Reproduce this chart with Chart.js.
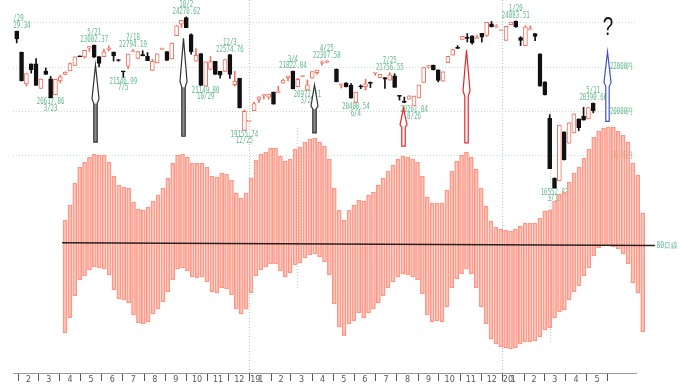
<!DOCTYPE html>
<html>
<head>
<meta charset="utf-8">
<script src="https://cdn.jsdelivr.net/npm/chart.js@4.4.1/dist/chart.umd.min.js"></script>
<style>
  html, body { margin: 0; padding: 0; background: #fff; }
</style>
</head>
<body>
<canvas id="myChart" width="688" height="391"></canvas>
<script>
// weekly candles (built from daily closes), week 0 = 2018-01-29, 65 = golden week (closed)
var weekOpen = [23629,22682,21245,22149,22153,21042,21824,21480,20766,21388,21678,21835,22088,22508,22467,22865,23002,22481,22475,22804,
  22680,22338,21811,22052,22697,22396,22544,22507,21857,22199,22799,22707,22373,23420,23940,24245,23469,22271,22614,21149,
  21898,22269,21821,21812,22574,21219,21506,19155,19561,20038,20555,20719,20649,20883,20864,21281,21528,21822,21125,21584,
  20977,21509,21761,22169,22218,null,21923,21191,21301,21182,20411,21134,21124,21285,21729,21534,21535,21416,21616,20720,
  20455,20563,20261,20620,21318,22001,22098,21885,21375,22207,22548,22867,23251,23331,23416,23292,23529,23430,23952,23821,
  23656,23204,23916,24083,23343,22971,23685,23523,22605,21344,19698,17002,16887,19084,18576,19043,19669,19783,19674,20390];
var weekHigh = [23629,22682,21720,22149,22389,21469,21968,21591,21454,21645,21794,22191,22467,22508,22758,22930,23002,22481,22823,22966,
  22693,22342,21811,22597,22794,22712,22746,22662,22356,22601,22869,22707,23094,23869,24120,24270,23506,22841,22614,22243,
  22486,22269,21821,22351,22574,21816,21506,20077,19561,20427,20666,20773,20788,20883,21144,21464,21602,21822,21504,21627,
  21428,21807,21870,22277,22308,null,21923,21250,21301,21260,20884,21204,21462,21338,21754,21685,21535,21756,21709,20720,
  20655,20710,20704,21199,21988,22079,22098,21885,21798,22492,22799,22974,23391,23520,23416,23437,23529,24023,24066,23924,
  23656,23850,24041,24083,23379,23873,23861,23523,22605,21344,19867,17011,19389,19084,19498,19897,19669,20193,20179,20390];
var weekLow = [23098,21382,21154,21736,21181,21042,21676,20617,20766,21292,21660,21835,22088,22472,22408,22717,22437,22018,22475,22738,
  22278,22270,21546,21932,22697,22396,22512,22298,21857,22199,22799,22307,22373,23420,23796,23783,22590,22271,21184,21149,
  21898,21680,21507,21812,21501,21148,20166,19155,19561,20038,20402,20574,20556,20333,20864,21281,21385,21025,21125,21566,
  20977,21505,21687,22090,22201,null,21344,21062,21117,20601,20408,21032,20972,21086,21638,21533,21046,21416,21087,20516,
  20405,20563,20261,20620,21318,21960,21878,21341,21375,22207,22548,22843,23251,23141,23038,23292,23135,23391,23816,23782,
  23656,23204,23916,23795,22977,22971,23685,23193,21142,20749,17431,16552,16887,17818,18576,19043,19137,19619,19674,19945];
var weekClose = [23274,21382,21720,21892,21181,21469,21676,20617,21454,21567,21778,22162,22467,22472,22758,22930,22450,22171,22694,22851,
  22516,22304,21788,22597,22697,22712,22525,22298,22270,22601,22865,22307,23094,23869,24120,23783,22694,22532,21184,22243,
  22250,21680,21646,22351,21678,21374,20166,20015,19561,20359,20666,20773,20788,20333,20900,21425,21602,21025,21450,21627,
  21205,21807,21870,22200,22259,null,21344,21250,21117,20601,20884,21116,21258,21275,21746,21685,21466,21658,21087,20684,
  20418,20710,20704,21199,21988,22079,21878,21410,21798,22492,22799,22850,23391,23303,23112,23293,23354,24023,23816,23837,
  23656,23850,24041,23827,23205,23827,23687,23386,21142,20749,17431,16552,19389,17820,19498,19897,19262,19619,20179,20037];

// cycle band: upper and lower edge of each bar (units above the base line)
var cycleHigh = [23,38,60,76,81,86,89,88,88,81, 67,58,56,55,41,34,33,36,42,48, 55,65,80,88,89,86,80,80,80,76,
  67,66,70,69,63,50,45,50,65,83, 89,91,95,95,87,82,84,94,96,101, 104,105,101,97,84,55,33,23,33,38,
  43,42,48,51,58,65,72,78,84,87, 86,84,81,67,46,40,40,40,53,72, 82,88,91,86,74,55,37,22,16,14,
  13,12,14,17,20,20,20,25,32,33, 42,49,51,61,70,76,85,94,106,112, 115,116,116,112,108,101,80,68,30];
var cycleLow = [-90,-75,-53,-37,-33,-27,-24,-25,-26,-32, -47,-56,-57,-60,-72,-80,-81,-79,-71,-66, -59,-49,-37,-26,-25,-28,-34,-35,-34,-39,
  -49,-50,-45,-46,-52,-66,-71,-66,-50,-33, -27,-24,-21,-21,-28,-34,-30,-22,-20,-15, -12,-11,-14,-19,-32,-61,-84,-93,-81,-78,
  -70,-75,-70,-66,-60,-53,-45,-39,-34,-31, -32,-34,-37,-51,-72,-79,-78,-79,-64,-45, -36,-31,-26,-31,-45,-64,-81,-96,-101,-104,
  -105,-106,-105,-101,-99,-99,-98,-94,-87,-85, -75,-69,-67,-57,-49,-43,-33,-25,-13,-5, -3,-3,-4,-6,-11,-21,-40,-50,-89];
var baseLine = [0.3, -2.5];

// month labels on the bottom axis (Feb 2018 .. May 2020)
var monthLabels = ['2','3','4','5','6','7','8','9','10','11','12',
  '1','2','3','4','5','6','7','8','9','10','11','12',
  '1','2','3','4','5'];
var yearLabels = {2019: '19', 2020: '20'};
var priceLines = [18000, 20000, 22000, 24000];
var priceLabels = {18000: '18000円', 20000: '20000円', 22000: '22000円'};

// notes: week, price, date, side
var notes = [
  [0, 23629.34, '1/29', 'above'], [7, 20617.86, '3/23', 'below'], [16, 23002.37, '5/21', 'above'],
  [22, 21546.99, '7/5', 'below'], [24, 22794.19, '7/18', 'above'], [35, 24270.62, '10/2', 'above'],
  [39, 21149.80, '10/29', 'below'], [44, 22574.76, '12/3', 'above'], [47, 19155.74, '12/25', 'below'],
  [57, 21822.04, '3/4', 'above'], [60, 20977.11, '3/25', 'below'], [64, 22307.58, '4/25', 'above'],
  [70, 20408.54, '6/4', 'below'], [77, 21756.55, '7/25', 'above'], [82, 20261.04, '8/26', 'below'],
  [103, 24083.51, '1/20', 'above'], [111, 16552.83, '3/19', 'below'], [119, 20390.66, '5/11', 'above']
];
var arrowWeek = [16.2, 34.4, 61.4, 79.7, 92.7, 121.8];
var arrowTip = [22100, 23300, 21200, 20160, 22780, 22700];
var arrowBase = [18620, 18890, 19040, 18440, 18590, 19560];
var arrowColor = ['#333', '#333', '#333', '#e8262a', '#e8262a', '#4050c8'];
var arrowFill = ['#8c8c8c', '#8c8c8c', '#8c8c8c', '#fff', '#fff', '#fff'];

var UP = '#f2705f', DOWN = '#111', NOTE = '#62b98a';

function weekPos(y, m, d) {
  return (Date.UTC(y, m, d) - Date.UTC(2018, 0, 29)) / (7 * 86400000);
}

// bottom axis ticks: month edges, month numbers in between, year mark after january edge
var axisTicks = [];
for (var k = 0; k <= monthLabels.length; k++) {
  var yy = 2018 + Math.floor((k + 1) / 12), mm = (k + 1) % 12;
  var b = weekPos(yy, mm, 1);
  axisTicks.push({ value: b, label: '', kind: mm === 0 ? 'year' : 'edge' });
  if (k < monthLabels.length) {
    var b2 = weekPos(2018 + Math.floor((k + 2) / 12), (k + 2) % 12, 1);
    if (mm === 0) axisTicks.push({ value: b + 1.1, label: yearLabels[yy], kind: 'text' });
    axisTicks.push({ value: (b + b2) / 2, label: monthLabels[k], kind: 'text' });
  }
}

var wicks = [], bodies = [], wickColors = [], bodyFill = [], bodyLine = [];
for (var i = 0; i < weekOpen.length; i++) {
  if (weekOpen[i] === null) continue;
  var up = weekClose[i] >= weekOpen[i];
  wicks.push({ x: i, y: [weekLow[i], weekHigh[i]] });
  bodies.push({ x: i, y: [weekOpen[i], weekClose[i]] });
  wickColors.push(up ? UP : DOWN);
  bodyLine.push(up ? UP : DOWN);
  bodyFill.push(up ? '#fff' : DOWN);
}

var cycleBars = [];
for (var j = 0; j < cycleHigh.length; j++) {
  cycleBars.push({ x: j, y: [cycleLow[j], cycleHigh[j]] });
}

function thinText(ctx, s, x, y, sx) {
  ctx.save();
  ctx.translate(x, y);
  ctx.scale(sx, 1);
  ctx.fillText(s, 0, 0);
  ctx.restore();
}

function drawArrow(ctx, x, t, b, stroke, fill) {
  var L = b - t, hw = 3.5, sw = 1.7;
  var wide = t + L * 0.44, neck = t + L * 0.5;
  ctx.beginPath();
  ctx.moveTo(x, t);
  ctx.lineTo(x + hw, wide);
  ctx.lineTo(x + sw, neck);
  ctx.lineTo(x + sw, b);
  ctx.lineTo(x - sw, b);
  ctx.lineTo(x - sw, neck);
  ctx.lineTo(x - hw, wide);
  ctx.closePath();
  ctx.fillStyle = '#fff';
  ctx.fill();
  if (fill !== '#fff') {
    ctx.fillStyle = fill;
    ctx.fillRect(x - sw, neck, sw * 2, b - neck);
  }
  ctx.lineWidth = 1.2;
  ctx.strokeStyle = stroke;
  ctx.stroke();
}

var notePlugin = {
  id: 'notePlugin',
  beforeDatasetsDraw: function (chart) {
    var ctx = chart.ctx, xs = chart.scales.x, ys = chart.scales.y, area = chart.chartArea;
    ctx.save();
    ctx.beginPath();
    ctx.rect(area.left + 0.5, 0, chart.width, chart.height);
    ctx.clip();
    ctx.fillStyle = NOTE;
    ctx.font = '8px "DejaVu Sans Mono"';
    ctx.textAlign = 'center';
    ctx.textBaseline = 'middle';
    notes.forEach(function (n) {
      var px = xs.getPixelForValue(n[0]), py = ys.getPixelForValue(n[1]);
      var val = n[1].toFixed(2);
      if (n[3] === 'above') {
        thinText(ctx, n[2], px, py - 11.7, 0.72);
        thinText(ctx, val, px, py - 5, 0.72);
      } else {
        thinText(ctx, val, px, py + 4.5, 0.72);
        thinText(ctx, n[2], px, py + 11, 0.72);
      }
    });
    // price line labels, right aligned inside the plot
    ctx.textAlign = 'right';
    priceLines.forEach(function (v) {
      if (priceLabels[v]) thinText(ctx, priceLabels[v], area.right - 3, ys.getPixelForValue(v), 0.72);
    });
    ctx.restore();
  },
  afterDatasetsDraw: function (chart) {
    var ctx = chart.ctx, xs = chart.scales.x, ys = chart.scales.y;
    ctx.save();
    for (var a = 0; a < arrowWeek.length; a++) {
      drawArrow(ctx, Math.round(xs.getPixelForValue(arrowWeek[a])) + 0.5,
        ys.getPixelForValue(arrowTip[a]), ys.getPixelForValue(arrowBase[a]),
        arrowColor[a], arrowFill[a]);
    }
    ctx.fillStyle = '#111';
    ctx.font = '26px "Liberation Sans"';
    ctx.textAlign = 'center';
    ctx.textBaseline = 'middle';
    thinText(ctx, '?', xs.getPixelForValue(arrowWeek[5]) + 1, ys.getPixelForValue(arrowTip[5]) - 24, 0.72);
    // label at the end of the base line
    var xo = chart.scales.xo, yo = chart.scales.yo;
    ctx.fillStyle = NOTE;
    ctx.font = '8px "DejaVu Sans Mono"';
    ctx.textAlign = 'left';
    thinText(ctx, '80日線', xo.getPixelForValue(cycleHigh.length + 1.8), yo.getPixelForValue(baseLine[1]), 0.8);
    ctx.restore();
  }
};

var ctx = document.getElementById('myChart').getContext('2d');
var myChart = new Chart(ctx, {
  type: 'bar',
  data: {
    datasets: [
      {
        type: 'line', data: [{ x: 57.9, y: 19260 }, { x: 57.9, y: 11960 }],
        borderColor: '#bbb', borderWidth: 1, borderDash: [1, 2], pointRadius: 0, order: 9
      },
      {
        type: 'line', data: [{ x: 110.2, y: 19940 }, { x: 110.2, y: 9570 }],
        borderColor: '#bbb', borderWidth: 1, borderDash: [1, 2], pointRadius: 0, order: 9
      },
      {
        label: 'wick', data: wicks, backgroundColor: wickColors, borderWidth: 0,
        barThickness: 1, grouped: false, order: 6
      },
      {
        label: 'body', data: bodies, backgroundColor: bodyFill, borderColor: bodyLine,
        borderWidth: 1, borderSkipped: false, barThickness: 4, minBarLength: 1, grouped: false, order: 5
      },
      {
        label: 'cycle', data: cycleBars, xAxisID: 'xo', yAxisID: 'yo',
        backgroundColor: 'rgba(255,172,155,0.62)', borderColor: '#ff9484', borderWidth: 1,
        borderSkipped: false, barThickness: 4, grouped: false, clip: false, order: 2
      },
      {
        type: 'line', label: 'base', xAxisID: 'xo', yAxisID: 'yo',
        data: [{ x: -0.6, y: baseLine[0] }, { x: cycleHigh.length + 1.5, y: baseLine[1] }],
        borderColor: '#222', borderWidth: 1.6, pointRadius: 0, clip: false, order: 1
      }
    ]
  },
  options: {
    responsive: false,
    animation: false,
    devicePixelRatio: 1,
    layout: { padding: { left: 13, right: 52, top: 0, bottom: 0 } },
    plugins: { legend: { display: false }, tooltip: { enabled: false } },
    scales: {
      x: {
        type: 'linear', position: 'bottom', min: -0.764, max: 127.82, offset: false,
        afterBuildTicks: function (s) { s.ticks = axisTicks.map(function (t) { return { value: t.value }; }); },
        afterFit: function (s) { s.height = 18; s.paddingLeft = 0; s.paddingRight = 0; },
        ticks: {
          autoSkip: false, maxRotation: 0, padding: -6, color: '#555',
          font: { size: 8, family: 'DejaVu Sans' },
          callback: function (v, idx) { return axisTicks[idx] ? axisTicks[idx].label : ''; }
        },
        grid: {
          offset: false, drawOnChartArea: true, drawTicks: true, tickLength: 8, tickBorderDash: [],
          color: function (c) { return axisTicks[c.index] && axisTicks[c.index].kind === 'year' ? '#bbb' : 'rgba(0,0,0,0)'; },
          tickColor: function (c) { return axisTicks[c.index] && axisTicks[c.index].kind !== 'text' ? '#555' : 'rgba(0,0,0,0)'; }
        },
        border: { display: true, color: '#999', dash: [1, 2] }
      },
      xo: { type: 'linear', display: false, offset: false, min: -10.62, max: 116.63 },
      y: {
        type: 'linear', position: 'right', min: 8215, max: 25032,
        afterBuildTicks: function (s) { s.ticks = priceLines.map(function (v) { return { value: v }; }); },
        afterFit: function (s) { s.width = 0; s.paddingTop = 0; s.paddingBottom = 0; },
        ticks: { display: false },
        grid: { color: '#bfe0cf', drawTicks: false },
        border: { display: false, dash: [1, 2] }
      },
      yo: { type: 'linear', display: false, min: -130, max: 243 }
    }
  },
  plugins: [notePlugin]
});
</script>
</body>
</html>
